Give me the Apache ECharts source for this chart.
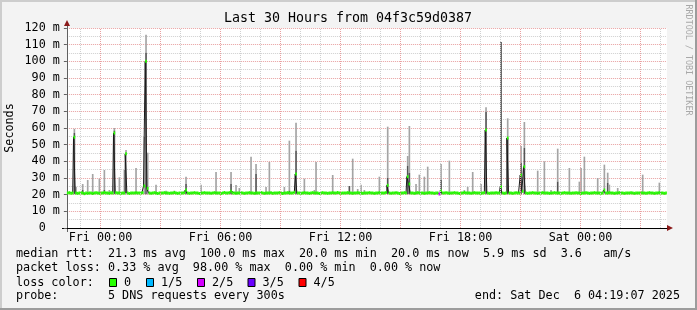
<!DOCTYPE html>
<html><head><meta charset="utf-8">
<script src="https://cdn.jsdelivr.net/npm/echarts@6/dist/echarts.min.js"></script>
<style>html,body{margin:0;padding:0;background:#f3f3f3}#c{width:697px;height:310px}</style>
</head><body><div id="c"></div>
<script>
// ---- data ----
const stepHours = 5 / 60;          // one sample every 300 s
const startHour = -1.68139;        // Thu 22:19:07, hours relative to Fri 00:00
const endHour = 28.31861;          // Sat 04:19:07
// median rtt (ms), one value per 300 s sample, 12 per row (= 1 hour)
const median = [
  21, 21.2, 20.8, 21, 54.5, 21, 20.8, 21, 21.2, 21, 20.6, 21,
  20.8, 21, 21, 20.7, 21, 21.2, 21, 20.8, 21, 21, 21.3, 21,
  21, 20.8, 21.2, 21, 57, 21.2, 21, 21, 20.8, 21, 21, 44.5,
  21, 20.7, 21, 21, 21, 21.2, 21, 21, 21, 21.2, 25.2, 100,
  23.8, 21, 20.8, 21, 21.2, 21, 20.7, 21, 21, 21, 21.2, 21,
  21, 20.8, 21, 21, 21.3, 21, 20.8, 21, 21, 21, 21.2, 22.8,
  21, 20.8, 21, 21, 21.2, 21, 21, 20.7, 21, 21, 21.2, 21,
  21, 21, 20.8, 21, 21.2, 21, 21, 21, 20.7, 21, 21.3, 21,
  21, 21.2, 22, 21, 21, 20.8, 21, 21, 21.2, 21, 20.8, 21,
  21, 21.2, 21, 21, 20.8, 21, 21, 21, 21.3, 21, 20.8, 21,
  21, 21, 21.2, 20.8, 21, 21, 21, 21.2, 21, 20.7, 21, 21,
  21.2, 21, 21, 21, 21.4, 32.4, 21, 21, 20.8, 21, 21.2, 21,
  21, 20.8, 21, 21.2, 21, 21, 21, 20.7, 21, 21.2, 21, 21,
  20.8, 21, 21, 21.2, 21, 21, 21.3, 21, 20.8, 21, 21, 21,
  21.2, 21, 21, 20.8, 21, 21, 21.2, 21, 21, 20.8, 21, 21,
  21, 21.2, 21, 21, 20.8, 21, 21, 21.2, 21, 21, 21, 21.3,
  25.6, 21, 20.8, 21, 21, 21.2, 21, 20.7, 21, 21, 21.2, 21,
  30.8, 26.4, 21, 21, 20.8, 21, 21.2, 21, 21, 21, 20.8, 21,
  21, 21.2, 21, 21, 20.8, 21, 21, 20.4, 22.4, 21, 21, 21.2,
  21, 20.8, 21, 21, 21.2, 21, 21, 20.7, 21, 21, 21.3, 21,
  21, 21, 20.8, 21, 21.2, 21, 21, 21, 20.8, 21, 21.2, 58.8,
  21, 20.8, 21, 21, 21, 21.2, 21, 21, 24.8, 21, 20.8, 21,
  54, 21, 21, 20.8, 21, 21.2, 21, 21, 31.8, 22, 36.8, 21,
  20.8, 21, 21, 21.2, 21, 21, 20.8, 21, 21, 21.2, 21, 21,
  21, 20.8, 21, 21, 21.2, 21, 21, 21, 20.8, 21, 21.2, 21,
  21, 21, 20.8, 21, 21, 21.2, 21, 21, 20.7, 21, 21, 21.2,
  21, 20.8, 21, 21, 21.2, 21, 21, 21, 20.8, 21, 22.8, 21,
  21, 21.2, 21, 21, 20.8, 21, 21, 21.2, 21, 21, 20.8, 21,
  21, 21, 21.2, 21, 20.8, 21, 21, 21, 21.2, 21, 21, 20.8,
  21, 21.2, 21, 21, 20.8, 21, 21, 21.2, 21, 21, 20.8, 21
];
// smoke (spread of the 5 pings) where it is visible: sample index, top of dark band, top of light band (ms)
const smokeIdx   = [4, 5, 9, 12, 15, 19, 22, 25, 28, 31, 34, 35, 41, 46, 47, 48, 53, 59, 64, 71, 80, 89, 98, 101, 103, 110, 113, 119, 121, 130, 133, 137, 142, 148, 149, 159, 169, 171, 174, 176, 178, 187, 192, 204, 205, 209, 211, 214, 216, 224, 229, 238, 240, 243, 248, 251, 260, 264, 272, 274, 282, 286, 290, 294, 301, 307, 308, 310, 318, 322, 324, 325, 330, 345, 355];
const smokeDark  = [57, 0, 22.8, 0, 0, 0, 22.8, 0, 58.5, 0, 0, 0, 0, 0, 105.2, 0, 0, 0, 0, 26.4, 0, 0, 26.4, 0, 0, 0, 32.4, 0, 0, 0, 22.4, 46.4, 0, 0, 0, 0, 25.2, 0, 0, 0, 0, 0, 30, 37.2, 33, 0, 0, 0, 0, 28.8, 0, 0, 0, 0, 0, 69.6, 111.6, 54, 39.2, 48, 0, 0, 0, 27.8, 0, 0, 0, 0, 0, 0, 27, 0, 0, 0, 0];
const smokeLight = [59.5, 24.8, 26.4, 28.8, 32.4, 29.6, 34.8, 22.8, 60, 30.4, 34.8, 46.8, 36, 54.6, 116, 45.2, 26, 22.4, 22.4, 30.8, 26, 33.6, 33.6, 25.8, 24, 42.8, 38.4, 24.6, 39.6, 24.6, 52.4, 63.2, 29.6, 22.8, 39.6, 31.8, 25.2, 41.6, 23.4, 26, 22.8, 30.8, 60.8, 43.2, 61.2, 26.4, 32, 30.8, 36.8, 38.4, 40.4, 22.8, 24.7, 33.6, 26.4, 72.4, 111.6, 65.8, 49.2, 63.6, 34.4, 40, 22.8, 47.6, 36, 27.8, 36, 42.8, 30, 38, 33.2, 26, 24, 32, 27.2];
const smokeBase = 20.3;
// packet loss per sample (count of 5 lost), only non-zero samples
const lossIdx = [223];
const lossCount = [2];
const lossColors = ['#26ff00', '#00b8ff', '#d400ff', '#6a00ff', '#ff0000'];
const lossLabels = ['0', '1/5', '2/5', '3/5', '4/5'];
const xTickHours = [0, 6, 12, 18, 24];
const xTickLabels = ['Fri 00:00', 'Fri 06:00', 'Fri 12:00', 'Fri 18:00', 'Sat 00:00'];
const gridHours = [-1, 0, 1, 2, 3, 4, 5, 6, 7, 8, 9, 10, 11, 12, 13, 14, 15, 16, 17, 18, 19, 20, 21, 22, 23, 24, 25, 26, 27, 28];
const legendLines = [
  'median rtt:  21.3 ms avg  100.0 ms max  20.0 ms min  20.0 ms now  5.9 ms sd  3.6   am/s',
  'packet loss: 0.33 % avg  98.00 % max  0.00 % min  0.00 % now',
  'loss color:',
  'probe:       5 DNS requests every 300s'
];
const endText = 'end: Sat Dec  6 04:19:07 2025';
const titleText = 'Last 30 Hours from 04f3c59d0387';

// ---- chart ----
const FONT = "'DejaVu Sans Mono', monospace";
const lossOf = {};
lossIdx.forEach((k, j) => { lossOf[k] = lossCount[j]; });
const tOf = i => startHour + (i + 0.5) * stepHours;
const medianData = median.map((v, i) => [tOf(i), v]);
const bandData = median.map((v, i) => [tOf(i), v, lossOf[i] || 0]);
const smokeData = smokeIdx.map((k, j) => [tOf(k), smokeDark[j], smokeLight[j]]);

const chart = echarts.init(document.getElementById('c'), null, {renderer: 'canvas'});

const graphic = [
  {type: 'rect', shape: {x: 0, y: 0, width: 697, height: 2}, style: {fill: '#cdcdcd'}, silent: true},
  {type: 'rect', shape: {x: 0, y: 0, width: 2, height: 310}, style: {fill: '#cdcdcd'}, silent: true},
  {type: 'rect', shape: {x: 0, y: 308, width: 697, height: 2}, style: {fill: '#9c9c9c'}, silent: true},
  {type: 'rect', shape: {x: 695, y: 0, width: 2, height: 310}, style: {fill: '#9c9c9c'}, silent: true},
  {type: 'text', x: 348, y: 19, style: {text: titleText, font: '13.3px ' + FONT, fill: '#000', align: 'center', verticalAlign: 'middle'}},
  {type: 'text', x: 10, y: 128, rotation: Math.PI / 2, style: {text: 'Seconds', font: '11.75px ' + FONT, fill: '#000', align: 'center', verticalAlign: 'middle'}},
  {type: 'text', x: 688, y: 60, rotation: -Math.PI / 2, style: {text: 'RRDTOOL / TOBI OETIKER', font: '8.4px ' + FONT, fill: '#a8a8a8', align: 'center', verticalAlign: 'middle'}},
  // axis arrows
  {type: 'polygon', shape: {points: [[64, 26], [70, 26], [67, 20]]}, style: {fill: '#8b1a1a'}},
  {type: 'polygon', shape: {points: [[667, 225], [667, 231], [673, 228]]}, style: {fill: '#8b1a1a'}},
  {type: 'line', shape: {x1: 67.5, y1: 26, x2: 67.5, y2: 28}, style: {stroke: '#606060', lineWidth: 1}},
  {type: 'line', shape: {x1: 62, y1: 228.5, x2: 67, y2: 228.5}, style: {stroke: '#000', lineWidth: 1}},
  {type: 'line', shape: {x1: 67.5, y1: 228, x2: 67.5, y2: 232}, style: {stroke: '#606060', lineWidth: 1}}
];
const legendY = [254, 268, 282.5, 296];
legendLines.forEach((s, j) => {
  graphic.push({type: 'text', x: 16, y: legendY[j], style: {text: s, font: '11.75px ' + FONT, fill: '#000', align: 'left', verticalAlign: 'middle'}});
});
const boxX = [109, 146, 197, 247.5, 298.5];
lossLabels.forEach((s, j) => {
  graphic.push({type: 'rect', shape: {x: boxX[j] + 0.5, y: 278.5, width: 7, height: 8}, style: {fill: lossColors[j], stroke: '#000', lineWidth: 1}});
  graphic.push({type: 'text', x: boxX[j] + 15, y: legendY[2], style: {text: s, font: '11.75px ' + FONT, fill: '#000', align: 'left', verticalAlign: 'middle'}});
});
graphic.push({type: 'text', x: 680, y: legendY[3], style: {text: endText, font: '11.75px ' + FONT, fill: '#000', align: 'right', verticalAlign: 'middle'}});

chart.setOption({
  animation: false,
  backgroundColor: '#f3f3f3',
  grid: {left: 66.87, top: 28, width: 600, height: 200, backgroundColor: '#ffffff', show: true, borderWidth: 0},
  xAxis: {
    type: 'value', min: startHour, max: endHour,
    splitLine: {show: false},
    axisTick: {show: false},
    axisLine: {show: true, onZero: false, lineStyle: {color: '#000', width: 1}},
    axisLabel: {
      customValues: xTickHours, margin: 4, color: '#000', fontFamily: FONT, fontSize: 11.75,
      formatter: v => { const k = xTickHours.findIndex(h => Math.abs(h - v) < 1e-6); return k >= 0 ? xTickLabels[k] : ''; }
    }
  },
  yAxis: {
    type: 'value', min: 0, max: 120, interval: 10,
    axisLine: {show: true, onZero: false, lineStyle: {color: '#606060'}},
    axisTick: {show: true, length: 3, lineStyle: {color: '#606060'}},
    axisLabel: {margin: 7, color: '#000', fontFamily: FONT, fontSize: 11.75, formatter: v => v === 0 ? '0  ' : v + ' m'},
    splitLine: {show: true, lineStyle: {color: '#e8a0a0', type: [1, 1], width: 1}},
    minorTick: {show: false, splitNumber: 2},
    minorSplitLine: {show: true, lineStyle: {color: '#cfcfcf', type: [1, 1], width: 1}}
  },
  graphic: graphic,
  series: [
    {
      type: 'line', data: medianData, z: 1, silent: true, symbol: 'none', showSymbol: false,
      lineStyle: {opacity: 0},
      markLine: {
        silent: true, symbol: ['none', 'none'], animation: false, label: {show: false},
        data: gridHours.map(h => ({xAxis: h, lineStyle: {color: (h % 3 === 0) ? '#e8a0a0' : '#cfcfcf', type: [1, 1], width: 1}}))
      }
    },
    {
      type: 'custom', z: 2, silent: true, clip: true, data: smokeData,
      renderItem: (params, api) => {
        const t = api.value(0), d = api.value(1), L = api.value(2);
        const x = api.coord([t - stepHours / 2, 0])[0];
        const w = api.size([stepHours, 0])[0];
        const yb = api.coord([t, smokeBase])[1];
        const yd = api.coord([t, d])[1];
        const yl = api.coord([t, L])[1];
        const children = [];
        const hasDark = d > smokeBase;
        const lightBottom = hasDark ? yd : yb;
        if (L > (hasDark ? d : smokeBase)) children.push({type: 'rect', shape: {x: x, y: yl, width: w, height: lightBottom - yl}, style: {fill: '#a4a4a4'}});
        if (hasDark) children.push({type: 'rect', shape: {x: x, y: yd, width: w, height: yb - yd}, style: {fill: '#555555'}});
        return {type: 'group', children: children};
      }
    },
    {
      type: 'line', z: 3, silent: true, data: medianData, step: 'middle', showSymbol: false, symbol: 'none',
      lineStyle: {color: '#1a1a1a', width: 1}
    },
    {
      type: 'custom', z: 4, silent: true, clip: true, data: bandData,
      renderItem: (params, api) => {
        const t = api.value(0), v = api.value(1), l = api.value(2);
        const p = api.coord([t - stepHours / 2, v]);
        const w = api.size([stepHours, 0])[0];
        return {type: 'rect', shape: {x: p[0], y: p[1] - 1.5, width: w, height: 3}, style: {fill: lossColors[l]}};
      }
    }
  ]
});
</script></body></html>
